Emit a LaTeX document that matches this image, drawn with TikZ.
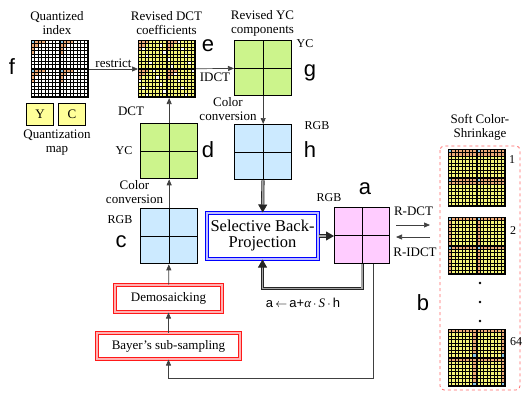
\documentclass[tikz,border=0pt]{standalone}
\usepackage{fontspec}
\setmainfont{Liberation Serif}
\newfontfamily\labelfont{Liberation Sans}
\usetikzlibrary{arrows.meta,positioning,calc}
\definecolor{ycgreen}{RGB}{204,244,140}
\definecolor{rgbblue}{RGB}{204,234,255}
\definecolor{rgbpink}{RGB}{255,204,255}
\definecolor{mapyellow}{RGB}{255,255,153}
\definecolor{coefyellow}{RGB}{244,244,120}
\definecolor{coeforange}{RGB}{236,170,120}
\definecolor{coefblue}{RGB}{140,200,230}

% 16x16 coefficient grid: name, left, top, colour rule
\newcommand{\coefcells}[4]{%
  \fill[black] (#2,#3) rectangle ++(57,57);
  \foreach \i in {0,...,15}{%
    \foreach \j in {0,...,15}{%
      \pgfmathtruncatemacro{\cu}{mod(\i,8)}%
      \pgfmathtruncatemacro{\cv}{mod(\j,8)}%
      \pgfmathtruncatemacro{\code}{#4}%
      \ifcase\code\def\cellcol{white}\or\def\cellcol{coefyellow}\or\def\cellcol{coeforange}\or\def\cellcol{coefblue}\fi
      \fill[\cellcol] (#2+\i*3.5625+0.55,#3+\j*3.5625+0.55) rectangle ++(2.45,2.45);
    }}
  \node[coefgrid] (#1) at (#2,#3) {};
  \draw[line width=1pt] (#1.north) -- (#1.south) (#1.west) -- (#1.east);
}
% 2x2 colour block: name, left, top, fill
\newcommand{\quadgrid}[4]{%
  \node[quad,fill=#4] (#1) at (#2,#3) {};
  \draw[line width=1.2pt] (#1.north) -- (#1.south) (#1.west) -- (#1.east);
}

\begin{document}
\begin{tikzpicture}[x=1pt,y=-1pt,
    font=\fontsize{13}{14}\selectfont,
    arr/.style={draw=black!75,line width=0.7pt,-{Triangle[length=6pt,width=5pt]}},
    dblarr/.style={draw=black!85,line width=0.8pt,double=black!35,double distance=1.6pt,-{Triangle[length=8pt,width=9pt]}},
    coefgrid/.style={draw=black,line width=1pt,minimum width=57pt,minimum height=57pt,inner sep=0pt,anchor=north west},
    quad/.style={draw=black,line width=1.3pt,minimum width=57pt,minimum height=55pt,inner sep=0pt,anchor=north west},
    bigletter/.style={font=\labelfont\fontsize{22}{22}\selectfont,inner sep=0pt},
    small/.style={font=\fontsize{12}{13}\selectfont,inner sep=0pt},
    caption/.style={align=center,inner sep=0pt},
    redbox/.style={draw=red!90,double=red!30,double distance=1.6pt,line width=1pt,inner sep=0pt},
    bluebox/.style={draw=blue,double=blue!25,double distance=1.6pt,line width=1pt,inner sep=0pt},
    mapbox/.style={draw=black,line width=0.8pt,fill=mapyellow,minimum width=27pt,minimum height=22pt,inner sep=0pt}
  ]
  \useasboundingbox (0,0) rectangle (524,394);

  % Quantized index and map
  \node[caption] (quantcap) at (57,23) {Quantized\\index};
  \coefcells{f}{31}{40}{(\cu==0&&\cv==0)?3:(((\cu==0&&\cv<4)||(\cv==0&&\cu<4)||(\cu==1&&\cv==1))?2:0)}
  \node[bigletter] (lf) at (12,67) {f};
  \node[mapbox] (mapY) at (40,114) {Y};
  \node[mapbox] (mapC) at (72,114) {C};
  \node[caption] (mapcap) at (57,143) {Quantization\\map};

  % Revised coefficients
  \node[caption] (coefcap) at (166.5,23) {Revised DCT\\coefficients};
  \coefcells{e}{138}{40}{(\cu+\cv<3)?2:((mod(\i*5+\j*3,11)==0)?0:1)}
  \node[bigletter] (le) at (208,46) {e};

  % Revised YC components
  \node[caption] (yccap) at (262.5,23) {Revised YC\\components};
  \quadgrid{g}{234}{40}{ycgreen}
  \node[small] (gyc) at (305,44) {YC};
  \node[bigletter] (lg) at (310,73) {g};

  % Middle row
  \quadgrid{h}{234}{124}{rgbblue}
  \node[small] (hrgb) at (317,126) {RGB};
  \node[bigletter] (lh) at (310,150) {h};
  \quadgrid{d}{140}{123}{ycgreen}
  \node[small] (dyc) at (124,151) {YC};
  \node[bigletter] (ld) at (208,150) {d};
  \quadgrid{c}{140}{208}{rgbblue}
  \node[small] (crgb) at (120,220) {RGB};
  \node[bigletter] (lc) at (121,242) {c};

  % Back-projection loop
  \node[bluebox,minimum width=111pt,minimum height=46pt,align=center,font=\fontsize{16.5}{16}\selectfont] (sbp) at (262.5,236) {Selective Back-\\Projection};
  \node[quad,fill=rgbpink,minimum width=55pt,minimum height=56pt] (a) at (334,207) {};
  \draw[line width=1.2pt] (a.north) -- (a.south) (a.west) -- (a.east);
  \node[small] (argb) at (329,198) {RGB};
  \node[bigletter] (la) at (365,189) {a};
  \node[inner sep=0pt] (update) at (303,303) {\labelfont a\,$\leftarrow$\,a+{\rmfamily\itshape α}\,$\cdot$\,{\rmfamily\itshape S}\,$\cdot$\,h};

  % Sampling chain
  \node[redbox,minimum width=107pt,minimum height=27pt] (demosaic) at (168.5,298.5) {Demosaicking};
  \node[redbox,minimum width=143pt,minimum height=26pt] (bayer) at (168.5,346) {Bayer's sub-sampling};

  % Soft colour shrinkage
  \node[caption] (scscap) at (480,127) {Soft Color-\\Shrinkage};
  \draw[red!60,dashed,line width=0.8pt,rounded corners=4pt] (440,146) rectangle (520,390);
  \coefcells{b1}{448}{149}{(\cu==0&&\cv==0)?3:((\cv<2)?2:1)}
  \coefcells{b2}{448}{217}{(\cu==0&&\cv==0)?3:((\cu==0||\cv==0)?2:1)}
  \coefcells{b64}{448}{329}{(\cu==7&&\cv==7)?3:((\cu==7||\cv==0)?2:1)}
  \node[small] (n1) at (512,160) {1};
  \node[small] (n2) at (513,231) {2};
  \node[small] (n64) at (516,342) {64};
  \foreach \y in {283,302,321}
    \fill (480,\y) circle (1.4);
  \node[bigletter] (lb) at (423,303) {b};

  % Connectors
  \draw[arr] (f) -- node[above=1pt,inner sep=0pt] (restrict) {restrict} (e);
  \draw[arr] (e) -- node[below=4pt,inner sep=0pt] (idct) {IDCT} (g);
  \draw[arr] (g) -- (h);
  \node[caption] (gconv) at (228,109) {Color\\conversion};
  \draw[arr] (d.north) -- (d.north |- e.south);
  \node[inner sep=0pt] (dct) at (131,111) {DCT};
  \draw[arr] (c) -- (d);
  \node[caption] (cconv) at (134.5,192.5) {Color\\conversion};
  \draw[arr] (demosaic) -- (c);
  \draw[arr] (bayer) -- (demosaic);
  \draw[dblarr] (h) -- (sbp);
  \draw[dblarr] (sbp.east) -- (sbp.east -| a.west);
  \draw[dblarr] (a.south) -- ++(0,24) -| (sbp.south);
  \draw[arr] ($(a.south)+(11,0)$) -- ++(0,114) -| (bayer.south);
  \coordinate (rdctS) at (396,225);
  \coordinate (rdctE) at (430,225);
  \coordinate (ridctS) at (430,237);
  \coordinate (ridctE) at (396,237);
  \draw[arr] (rdctS) -- (rdctE);
  \draw[arr] (ridctS) -- (ridctE);
  \node[inner sep=0pt] (rdct) at (413.5,211) {R-DCT};
  \node[inner sep=0pt] (ridct) at (415,252) {R-IDCT};
\end{tikzpicture}
\end{document}
